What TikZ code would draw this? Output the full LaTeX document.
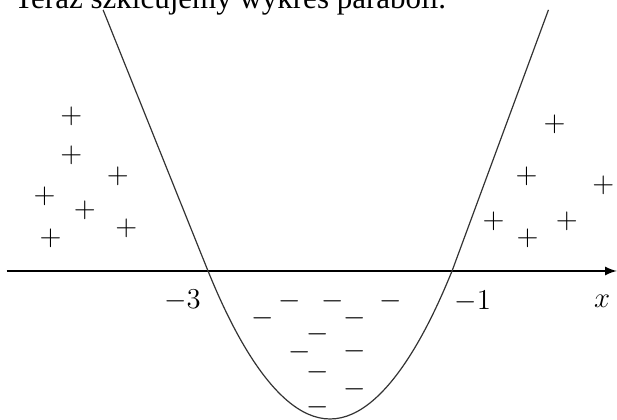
\documentclass[tikz,border=0pt]{standalone}
\usepackage{amsmath}
\usepackage[no-math]{fontspec}
\usepackage{tikz}
\usetikzlibrary{arrows}
\newfontfamily\serifrm{Liberation Serif}
\tikzset{
	graphstyle/.style={
		>=latex,
		x=61pt,
		y=61pt},
	signnode/.style={inner sep=0pt, font=\fontsize{14}{16}\selectfont},
	curvestyle/.style={line width=0.6pt, black!80},
	axisstyle/.style={->, line width=1pt}}

\begin{document}
\begin{tikzpicture}[graphstyle]

	\clip (-4.705,-1.221) rectangle (0.352,2.221);

	\node[anchor=base west, inner sep=0pt, font=\serifrm\fontsize{15.5}{18}\selectfont] (title) at (-4.59,2.15) {Teraz szkicujemy wykres paraboli.};

	\coordinate (a0) at (-4.65,0);
	\coordinate (a1) at (0.35,0);
	\coordinate (r3) at (-3,0);
	\coordinate (r1) at (-1,0);
	\coordinate (v) at (-2,-1.213);
	\coordinate (lt) at (-3.86,2.14);
	\coordinate (rt) at (-0.21,2.14);

	\draw[axisstyle] (a0) -- (a1);
	\draw[curvestyle] (lt) -- (r3) parabola bend (v) (r1) -- (rt);

	\node[signnode] (n3) at (-3.21,-0.24) {$-3$};
	\node[signnode] (n1) at (-0.83,-0.25) {$-1$};
	\node[signnode] (xl) at (0.23,-0.25) {$x$};

	% plusy
	\node[signnode] (p1) at (-4.12,1.27) {$+$};
	\node[signnode] (p2) at (-4.12,0.95) {$+$};
	\node[signnode] (p3) at (-3.74,0.78) {$+$};
	\node[signnode] (p4) at (-4.34,0.61) {$+$};
	\node[signnode] (p5) at (-4.01,0.50) {$+$};
	\node[signnode] (p6) at (-3.67,0.35) {$+$};
	\node[signnode] (p7) at (-4.29,0.27) {$+$};

	\node[signnode] (q1) at (-0.16,1.20) {$+$};
	\node[signnode] (q2) at (-0.39,0.78) {$+$};
	\node[signnode] (q3) at (0.24,0.70) {$+$};
	\node[signnode] (q4) at (-0.66,0.41) {$+$};
	\node[signnode] (q5) at (-0.06,0.41) {$+$};
	\node[signnode] (q6) at (-0.38,0.27) {$+$};

	% minusy
	\node[signnode] (m1) at (-2.33,-0.25) {$-$};
	\node[signnode] (m2) at (-1.98,-0.25) {$-$};
	\node[signnode] (m3) at (-1.50,-0.25) {$-$};
	\node[signnode] (m4) at (-2.55,-0.39) {$-$};
	\node[signnode] (m5) at (-1.80,-0.39) {$-$};
	\node[signnode] (m6) at (-2.10,-0.52) {$-$};
	\node[signnode] (m7) at (-2.25,-0.67) {$-$};
	\node[signnode] (m8) at (-1.80,-0.66) {$-$};
	\node[signnode] (m9) at (-2.10,-0.83) {$-$};
	\node[signnode] (m10) at (-1.80,-0.97) {$-$};
	\node[signnode] (m11) at (-2.10,-1.12) {$-$};

\end{tikzpicture}
\end{document}
